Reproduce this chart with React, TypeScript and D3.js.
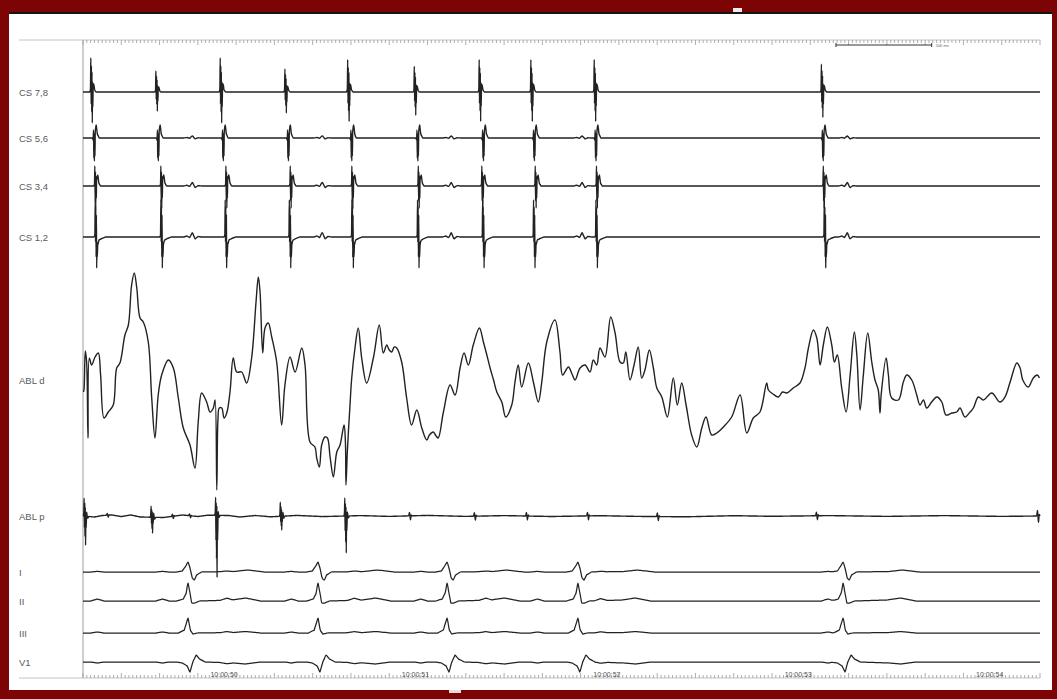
import React from "react";
import * as d3 from "d3";

type Pt = [number, number];

// ---------------- DATA ----------------
const channelNames = ["CS 7,8", "CS 5,6", "CS 3,4", "CS 1,2", "ABL d", "ABL p", "I", "II", "III", "V1"];

// clock labels (ms from sweep start)
const clockLabels = ["10:00:50", "10:00:51", "10:00:52", "10:00:53", "10:00:54"];
const clockTimes = [737, 1737, 2737, 3737, 4737];
const sweepMs = 5000;
const scaleBarStart = 3934;
const scaleBarMs = 500;
const scaleBarLabel = "500 ms";

// atrial activation times per CS bipole (ms)
const cs78Times = [45, 385, 721, 1059, 1387, 1735, 2074, 2344, 2675, 3862];
const cs78Amp = [1, 0.62, 1, 0.68, 0.95, 0.75, 0.95, 0.95, 0.95, 0.82];
const cs56Times = [59, 393, 733, 1073, 1404, 1749, 2092, 2358, 2680, 3867];
const cs34Times = [66, 411, 751, 1087, 1409, 1756, 2088, 2367, 2687, 3872];
const cs12Times = [68, 411, 747, 1082, 1409, 1752, 2092, 2358, 2684, 3877];

// ventricular (QRS) times (ms)
const ventTimes = [549, 1228, 1902, 2586, 3971];

// electrogram morphologies: [ms offset, mV]
const cs78Tpl: Pt[] = [[-10, 0], [-6, 0.03], [-4, 0.34], [-2.5, -0.12], [-1, 0.26], [0.5, -0.2], [2, 0.2], [3.5, -0.31], [5, 0.1], [6.5, -0.15], [8, 0.08], [11, 0.08], [16, 0.02], [24, 0]];
const cs56Tpl: Pt[] = [[-10, 0], [-6, -0.02], [-4, 0.08], [-2.5, -0.2], [-1, 0.05], [0.5, -0.23], [2, 0.04], [3.5, -0.18], [5, 0.06], [7, 0.1], [10, 0.13], [16, 0.04], [26, 0]];
const cs34Tpl: Pt[] = [[-10, 0], [-6, 0.02], [-4, 0.2], [-2.5, -0.15], [-1, 0.14], [0.5, -0.22], [2, 0.1], [3.5, -0.12], [5, 0.06], [7, 0.08], [11, 0.11], [17, 0.03], [26, 0]];
const cs12Tpl: Pt[] = [[-10, 0], [-6, 0.02], [-4, 0.37], [-2.5, -0.05], [-1, 0.3], [0.5, -0.2], [2, 0.22], [3.5, -0.31], [5, -0.05], [6.5, -0.2], [9, -0.08], [16, -0.03], [30, -0.015], [50, 0]];
const farFieldTpl: Pt[] = [[-45, 0], [-28, 0.008], [-14, -0.004], [0, 0.035], [15, -0.015], [30, 0.004], [50, 0]];
const farFieldGain = [0, 0.6, 1, 1.2];
const farFieldDelay = 22;

// ablation distal (free trace, ms / mV)
const ablD: Pt[] = [
  [2, -0.12], [5, -0.1], [12, 0.29], [19, 0.18], [26, -0.58], [33, 0.22], [45, 0.15], [63, 0.23], [80, 0.27], [92, 0.05],
  [110, -0.38], [132, -0.32], [158, -0.25], [176, 0.12], [193, 0.17], [219, 0.45], [237, 0.55], [254, 0.95], [268, 1.07],
  [281, 0.92], [298, 0.62], [315, 0.58], [341, 0.38], [359, -0.18], [376, -0.58], [393, -0.15], [411, 0.05], [446, 0.2],
  [472, 0.12], [498, -0.18], [524, -0.48], [559, -0.65], [585, -0.88], [602, -0.42], [620, -0.13], [646, -0.22],
  [664, -0.32], [681, -0.28], [690, -0.2], [699, -1.1], [705, -0.4], [712, -0.28], [725, -0.28], [737, -0.38],
  [751, -0.33], [768, -0.12], [785, 0.22], [803, 0.08], [829, 0.08], [855, -0.03], [881, 0.22], [904, 0.78],
  [916, 1.03], [925, 0.88], [939, 0.27], [951, 0.52], [968, 0.57], [986, 0.43], [1012, 0.18], [1038, -0.45],
  [1055, -0.05], [1082, 0.23], [1108, 0.08], [1143, 0.32], [1160, 0.15], [1186, -0.62], [1212, -0.67], [1221, -0.78],
  [1235, -0.87], [1247, -0.65], [1264, -0.57], [1277, -0.58], [1291, -0.77], [1308, -0.97], [1326, -0.72],
  [1343, -0.65], [1364, -0.45], [1371, -0.62], [1374, -1.05], [1381, -0.72], [1395, -0.25], [1404, 0.02],
  [1421, 0.32], [1438, 0.52], [1456, 0.22], [1482, -0.03], [1517, 0.22], [1548, 0.55], [1569, 0.27], [1587, 0.35],
  [1600, 0.3], [1613, 0.28], [1626, 0.33], [1639, 0.32], [1665, 0.18], [1691, -0.18], [1717, -0.45], [1744, -0.3], [1770, -0.48], [1796, -0.6],
  [1810, -0.55], [1830, -0.52], [1845, -0.56], [1856, -0.58], [1883, -0.32], [1918, -0.05], [1944, -0.15], [1970, 0.12], [1991, 0.27], [2013, 0.15],
  [2039, 0.35], [2071, 0.52], [2092, 0.38], [2110, 0.25], [2127, 0.12], [2145, 0.0], [2162, -0.12], [2188, -0.22], [2209, -0.37], [2240, -0.25],
  [2257, -0.02], [2274, 0.15], [2292, -0.07], [2327, 0.17], [2353, -0.02], [2379, -0.22], [2397, -0.02], [2423, 0.38],
  [2466, 0.6], [2492, 0.28], [2506, 0.05], [2536, 0.13], [2555, 0.06], [2571, 0.0], [2597, 0.12], [2623, 0.15], [2649, 0.08],
  [2666, 0.2], [2684, 0.15], [2701, 0.32], [2727, 0.23], [2757, 0.63], [2780, 0.47], [2806, 0.18], [2823, 0.17],
  [2836, 0.28], [2858, 0.0], [2879, 0.15], [2901, 0.33], [2919, 0.02], [2936, 0.1], [2959, 0.3], [2980, 0.12],
  [2998, -0.08], [3024, -0.17], [3053, -0.37], [3084, 0.02], [3105, -0.25], [3128, -0.03], [3151, -0.25], [3180, -0.55],
  [3207, -0.67], [3233, -0.48], [3255, -0.37], [3285, -0.55], [3311, -0.53], [3346, -0.47], [3389, -0.37], [3433, -0.15],
  [3468, -0.53], [3502, -0.38], [3537, -0.32], [3572, -0.03], [3581, -0.1], [3605, -0.14], [3633, -0.17], [3655, -0.12], [3677, -0.13], [3711, -0.08],
  [3746, -0.03], [3772, 0.12], [3790, 0.32], [3816, 0.5], [3834, 0.42], [3851, 0.15], [3868, 0.35], [3889, 0.53],
  [3912, 0.35], [3926, 0.18], [3941, 0.25], [3964, -0.08], [3987, -0.32], [4008, 0.05], [4030, 0.48], [4043, 0.25],
  [4060, -0.3], [4077, 0.05], [4100, 0.47], [4121, 0.18], [4138, 0.0], [4155, -0.1], [4164, -0.33], [4170, -0.15],
  [4196, 0.22], [4208, 0.05], [4225, -0.18], [4260, -0.2], [4286, -0.02], [4304, 0.05], [4330, 0.0], [4356, -0.15],
  [4373, -0.25], [4391, -0.2], [4408, -0.28], [4434, -0.22], [4461, -0.17], [4487, -0.22], [4509, -0.35], [4539, -0.33],
  [4565, -0.32], [4582, -0.28], [4608, -0.37], [4635, -0.32], [4652, -0.28], [4678, -0.17], [4704, -0.2], [4748, -0.13],
  [4791, -0.22], [4817, -0.17], [4844, -0.02], [4879, 0.17], [4896, 0.12], [4910, 0.0], [4939, -0.07], [4965, 0.02],
  [4986, 0.05], [4997, 0.02],
];

// ablation proximal: large deflections (ms, up mV, down mV), small deflections and baseline ripple
const ablPTimes = [10, 360, 697, 1035, 1372];
const ablPUp = [0.18, 0.11, 0.18, 0.14, 0.18];
const ablPDown = [0.29, 0.16, 0.62, 0.14, 0.37];
const ablPSmallTimes = [130, 470, 560, 1709, 2048, 2320, 2639, 3004, 3835, 4990];
const ablPSmallAmp = [0.5, 0.6, 0.5, 1, 1, 1, 1, 1, 1, 1.6];
const ablPSmallTpl: Pt[] = [[-8, 0], [-3, 0.035], [2, -0.04], [6, 0.01], [10, 0]];
const ablPRipple: Pt[] = [
  [0, 0], [60, -0.01], [100, 0.005], [150, 0.01], [200, -0.005], [250, 0.01], [300, -0.01], [420, -0.015], [520, 0.01],
  [600, -0.005], [650, 0.008], [760, 0.005], [820, -0.01], [900, 0.005], [980, -0.008], [1120, 0.006], [1250, -0.006],
  [1450, 0.004], [1600, -0.004], [1800, 0.006], [2000, -0.004], [2200, 0.004], [2450, -0.005], [2700, 0.003], [2900, -0.004],
  [3150, -0.008], [3400, 0.003], [3600, -0.003], [3900, 0.004], [4200, -0.004], [4500, 0.004], [4800, -0.004], [5000, 0],
];

// surface ECG QRS-T morphologies
const leadITpl: Pt[] = [[-60, 0], [-30, 0.01], [-12, 0.06], [0, 0.1], [10, 0.04], [22, -0.06], [32, -0.08], [45, -0.03], [70, 0], [240, 0.005], [310, 0.02], [400, 0]];
const leadIITpl: Pt[] = [[-60, 0], [-25, 0.02], [-10, 0.08], [0, 0.18], [10, 0.08], [20, -0.02], [35, -0.02], [60, 0], [230, 0.01], [300, 0.03], [380, 0]];
const leadIIITpl: Pt[] = [[-50, 0], [-20, 0.03], [0, 0.15], [12, 0.03], [25, -0.01], [50, 0], [240, 0.005], [300, 0.015], [380, 0]];
const leadV1Tpl: Pt[] = [[-60, 0], [-30, -0.01], [-5, -0.04], [10, -0.1], [25, 0.0], [42, 0.07], [60, 0.03], [90, 0], [240, -0.01], [300, -0.02], [380, 0]];
const pWaveTpl: Pt[] = [[-35, 0], [0, 0.02], [35, 0]];
const pWaveGain = [0.3, 1, 0.5, -0.5];

// ---------------- LAYOUT ----------------
const W = 1057;
const H = 699;
const X0 = 83;
const X1 = 1040;
const baselines = [92, 138, 186, 237, 380, 516, 572, 601, 633, 662];
const gainPx = 100; // px per mV
const TOP_AXIS = 40;
const BOT_AXIS = 678;
const INK = "#222222";

function interp(tpl: Pt[], dt: number): number {
  if (dt <= tpl[0][0] || dt >= tpl[tpl.length - 1][0]) return 0;
  for (let i = 1; i < tpl.length; i++) {
    if (dt <= tpl[i][0]) {
      const [t0, v0] = tpl[i - 1];
      const [t1, v1] = tpl[i];
      return v0 + ((v1 - v0) * (dt - t0)) / (t1 - t0);
    }
  }
  return 0;
}

interface Ev { t: number; tpl: Pt[]; k: number }

function synth(events: Ev[], step = 10, extra?: Pt[]): Pt[] {
  const set = new Set<number>();
  for (let t = 0; t <= sweepMs; t += step) set.add(t);
  if (extra) extra.forEach(([t]) => set.add(t));
  events.forEach((e) =>
    e.tpl.forEach(([o]) => {
      const t = +(e.t + o).toFixed(2);
      if (t >= 0 && t <= sweepMs) set.add(t);
    })
  );
  const ts = Array.from(set).sort((a, b) => a - b);
  return ts.map((t) => {
    let v = events.reduce((s, e) => s + e.k * interp(e.tpl, t - e.t), 0);
    if (extra) v += interp([[-1, 0], ...extra, [sweepMs + 1, 0]] as Pt[], t);
    return [t, v] as Pt;
  });
}

function csEvents(times: number[], tpl: Pt[], ch: number, amps?: number[]): Ev[] {
  const ev: Ev[] = times.map((t, i) => ({ t, tpl, k: amps ? amps[i] : 1 }));
  if (farFieldGain[ch] > 0) ventTimes.forEach((t) => ev.push({ t: t + farFieldDelay, tpl: farFieldTpl, k: farFieldGain[ch] }));
  return ev;
}

function ablPEvents(): Ev[] {
  const ev: Ev[] = ablPTimes.map((t, i) => {
    const up = ablPUp[i];
    const dn = ablPDown[i];
    const tpl: Pt[] = [[-9, 0], [-6, 0.03], [-4, up], [-2.5, -dn * 0.4], [-1, up * 0.7], [0.5, -dn * 0.7], [2, up * 0.5], [3.5, -dn], [5, up * 0.2], [6.5, -dn * 0.4], [9, 0.04], [14, -0.02], [20, 0]];
    return { t, tpl, k: 1 };
  });
  ablPSmallTimes.forEach((t, i) => ev.push({ t, tpl: ablPSmallTpl, k: ablPSmallAmp[i] }));
  return ev;
}

function ecgEvents(tpl: Pt[], lead: number): Ev[] {
  const ev: Ev[] = ventTimes.map((t) => ({ t, tpl, k: 1 }));
  cs78Times.forEach((t) => ev.push({ t: t + 30, tpl: pWaveTpl, k: pWaveGain[lead] }));
  return ev;
}

export default function App() {
  const x = d3.scaleLinear().domain([0, sweepMs]).range([X0, X1]);
  const yFor = (i: number) => d3.scaleLinear().domain([-1, 1]).range([baselines[i] + gainPx, baselines[i] - gainPx]);

  const series: { pts: Pt[]; curve: d3.CurveFactory }[] = [
    { pts: synth(csEvents(cs78Times, cs78Tpl, 0, cs78Amp)), curve: d3.curveMonotoneX },
    { pts: synth(csEvents(cs56Times, cs56Tpl, 1)), curve: d3.curveMonotoneX },
    { pts: synth(csEvents(cs34Times, cs34Tpl, 2)), curve: d3.curveMonotoneX },
    { pts: synth(csEvents(cs12Times, cs12Tpl, 3)), curve: d3.curveMonotoneX },
    { pts: ablD, curve: d3.curveCatmullRom.alpha(0.5) },
    { pts: synth(ablPEvents(), 10, ablPRipple), curve: d3.curveMonotoneX },
    { pts: synth(ecgEvents(leadITpl, 0)), curve: d3.curveMonotoneX },
    { pts: synth(ecgEvents(leadIITpl, 1)), curve: d3.curveMonotoneX },
    { pts: synth(ecgEvents(leadIIITpl, 2)), curve: d3.curveMonotoneX },
    { pts: synth(ecgEvents(leadV1Tpl, 3)), curve: d3.curveMonotoneX },
  ];

  const ticks = d3.range(0, sweepMs + 1, 20);

  return (
    <div style={{ position: "absolute", left: 0, top: 0 }}>
      <svg width={W} height={H} style={{ display: "block" }}>
        <rect x={0} y={0} width={W} height={H} fill="#7c0404" />
        <rect x={9} y={12} width={1043} height={678} fill="#ffffff" />
        <rect x={9} y={12} width={1043} height={2} fill="#151515" />
        <rect x={733} y={8} width={9} height={4} fill="#f2eaea" />
        <rect x={449} y={690} width={12} height={3} fill="#e8d8d8" />

        {/* axis lines */}
        <line x1={19} x2={X1} y1={TOP_AXIS} y2={TOP_AXIS} stroke="#c4c4c4" strokeWidth={1} />
        <line x1={19} x2={X1} y1={BOT_AXIS} y2={BOT_AXIS} stroke="#c4c4c4" strokeWidth={1} />
        <line x1={X0} x2={X0} y1={TOP_AXIS} y2={BOT_AXIS} stroke="#cfcfcf" strokeWidth={2} />

        {/* rulers */}
        <g stroke="#9a9a9a" strokeWidth={0.8}>
          {ticks.map((t) => {
            const major = t % 200 === 0;
            const xx = x(t);
            return (
              <g key={t}>
                <line x1={xx} x2={xx} y1={TOP_AXIS} y2={TOP_AXIS + (major ? 5 : 3)} />
                <line x1={xx} x2={xx} y1={BOT_AXIS} y2={BOT_AXIS - (major ? 5 : 3)} />
              </g>
            );
          })}
        </g>

        {/* scale bar */}
        <g stroke="#333" strokeWidth={1}>
          <line x1={x(scaleBarStart)} x2={x(scaleBarStart + scaleBarMs)} y1={45} y2={45} />
          <line x1={x(scaleBarStart)} x2={x(scaleBarStart)} y1={43} y2={47} />
          <line x1={x(scaleBarStart + scaleBarMs)} x2={x(scaleBarStart + scaleBarMs)} y1={43} y2={47} />
        </g>
        <text x={x(scaleBarStart + scaleBarMs) + 4} y={47} fontSize={4} fill="#666" fontFamily="Liberation Sans, Arial, sans-serif">
          {scaleBarLabel}
        </text>

        {/* clock labels */}
        {clockLabels.map((l, i) => (
          <text key={l} x={x(clockTimes[i])} y={677} fontSize={7} fill="#555" textAnchor="middle" fontFamily="Liberation Sans, Arial, sans-serif">
            {l}
          </text>
        ))}

        {/* channel labels */}
        {channelNames.map((n, i) => (
          <text key={n} x={19} y={baselines[i] + 3.5} fontSize={9.5} fill="#5a5a5a" fontFamily="Liberation Sans, Arial, sans-serif">
            {n}
          </text>
        ))}

        {/* traces */}
        {series.map((s, i) => {
          const y = yFor(i);
          const line = d3
            .line<Pt>()
            .x((d) => x(d[0]))
            .y((d) => y(d[1]))
            .curve(s.curve);
          return (
            <path
              key={i}
              d={line(s.pts) || ""}
              fill="none"
              stroke={INK}
              strokeWidth={i >= 6 ? 1.25 : 1.4}
              strokeLinejoin="round"
            />
          );
        })}
      </svg>
    </div>
  );
}
